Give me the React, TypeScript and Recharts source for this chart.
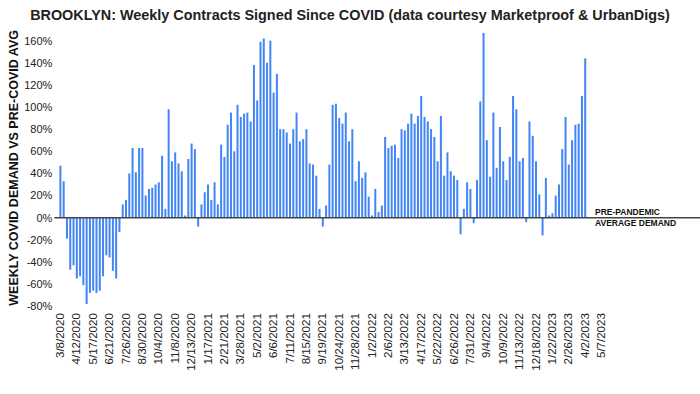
import { BarChart, Bar, XAxis, YAxis, ReferenceLine, Label } from "recharts";

// x-axis labels, one every five weeks
const tickLabels = [
  "3/8/2020", "4/12/2020", "5/17/2020", "6/21/2020", "7/26/2020", "8/30/2020",
  "10/4/2020", "11/8/2020", "12/13/2020", "1/17/2021", "2/21/2021", "3/28/2021",
  "5/2/2021", "6/6/2021", "7/11/2021", "8/15/2021", "9/19/2021", "10/24/2021",
  "11/28/2021", "1/2/2022", "2/6/2022", "3/13/2022", "4/17/2022", "5/22/2022",
  "6/26/2022", "7/31/2022", "9/4/2022", "10/9/2022", "11/13/2022", "12/18/2022",
  "1/22/2023", "2/26/2023", "4/2/2023", "5/7/2023",
];

// weekly demand vs pre-covid average, in %
const weeklyDemand = [
  47, 33, -19, -47, -43, -55, -53, -61, -78, -68,
  -66, -68, -66, -53, -34, -36, -48, -55, -13, 12,
  16, 40, 63, 41, 63, 63, 20, 26, 27, 30,
  32, 56, 8, 98, 51, 59, 49, 42, 2, 53,
  67, 62, -8, 12, 23, 30, 16, 32, 12, 66,
  55, 84, 95, 60, 102, 91, 94, 95, 87, 138,
  106, 159, 162, 140, 160, 113, 130, 80, 80, 77,
  67, 80, 95, 69, 71, 80, 49, 48, 38, 8,
  -8, 11, 48, 102, 103, 90, 85, 95, 69, 80,
  33, 51, 36, 41, 19, 2, 26, 5, 11, 73,
  63, 65, 66, 54, 80, 79, 85, 94, 85, 92,
  110, 91, 87, 80, 73, 51, 92, 38, 59, 42,
  38, 34, -15, 8, 32, 26, -5, 34, 105, 167,
  70, 37, 95, 45, 82, 51, 34, 55, 110, 98,
  51, 54, -4, 87, 74, 51, 21, -16, 36, 2,
  4, 20, 30, 62, 91, 48, 70, 84, 85, 110,
  144,
];

const yTicks = [-80, -60, -40, -20, 0, 20, 40, 60, 80, 100, 120, 140, 160];

const rows = Array.from({ length: tickLabels.length * 5 - 4 }, (_, i) => ({
  week: i,
  demand: weeklyDemand[i] ?? null,
}));

const FONT = "'Liberation Sans', Arial, sans-serif";

function DateTick({ x, y, payload }: any) {
  const label = tickLabels[payload.value / 5] ?? "";
  return (
    <text
      x={x}
      y={y}
      transform={`rotate(-90, ${x}, ${y})`}
      textAnchor="end"
      dominantBaseline="central"
      fontSize={11.5}
      fontFamily={FONT}
      fill="#222"
    >
      {label}
    </text>
  );
}

function ZeroLine(props: any) {
  return (
    <line
      x1={props.x1 - 4}
      y1={props.y1}
      x2={700}
      y2={props.y2}
      stroke="#444"
      strokeWidth={1.5}
    />
  );
}

function ZeroLabel({ viewBox }: any) {
  const y = viewBox.y;
  return (
    <text fontSize={8.5} fontWeight="bold" fontFamily={FONT} fill="#111">
      <tspan x={595} y={y - 3}>PRE-PANDEMIC</tspan>
      <tspan x={595} y={y + 8}>AVERAGE DEMAND</tspan>
    </text>
  );
}

function AxisTitle({ viewBox }: any) {
  const cy = viewBox.y + viewBox.height / 2;
  return (
    <text
      x={14}
      y={cy}
      transform={`rotate(-90, 14, ${cy})`}
      textAnchor="middle"
      dominantBaseline="central"
      fontSize={12.5}
      fontWeight="bold"
      fontFamily={FONT}
      fill="#111"
    >
      WEEKLY COVID DEMAND VS PRE-COVID AVG
    </text>
  );
}

export default function App() {
  return (
    <div
      style={{
        position: "absolute",
        left: 0,
        top: 0,
        width: 700,
        height: 394,
        background: "#fff",
        fontFamily: FONT,
      }}
    >
      <div
        style={{
          position: "absolute",
          top: 7,
          left: 0,
          width: 700,
          textAlign: "center",
          fontSize: 14.4,
          fontWeight: "bold",
          color: "#222",
        }}
      >
        BROOKLYN: Weekly Contracts Signed Since COVID (data courtesy Marketproof &amp; UrbanDigs)
      </div>
      <BarChart
        width={700}
        height={394}
        data={rows}
        margin={{ top: 29.6, right: 97.1, bottom: 0, left: 0 }}
      >
        <XAxis
          dataKey="week"
          type="category"
          interval={4}
          tick={<DateTick />}
          tickLine={false}
          axisLine={false}
          tickSize={6}
          tickMargin={1}
          height={87.8}
        />
        <YAxis
          type="number"
          domain={[-80, 170]}
          ticks={yTicks}
          tickFormatter={(v) => `${v}%`}
          tick={{ fontSize: 11, fill: "#222", fontFamily: FONT }}
          tickLine={false}
          axisLine={false}
          tickSize={6}
          tickMargin={0}
          width={58.4}
        >
          <Label content={<AxisTitle />} />
        </YAxis>
        <Bar
          dataKey="demand"
          fill="#4285f4"
          barSize={2}
          isAnimationActive={false}
        />
        <ReferenceLine
          y={0}
          ifOverflow="visible"
          shape={<ZeroLine />}
          label={<ZeroLabel />}
        />
      </BarChart>
    </div>
  );
}
